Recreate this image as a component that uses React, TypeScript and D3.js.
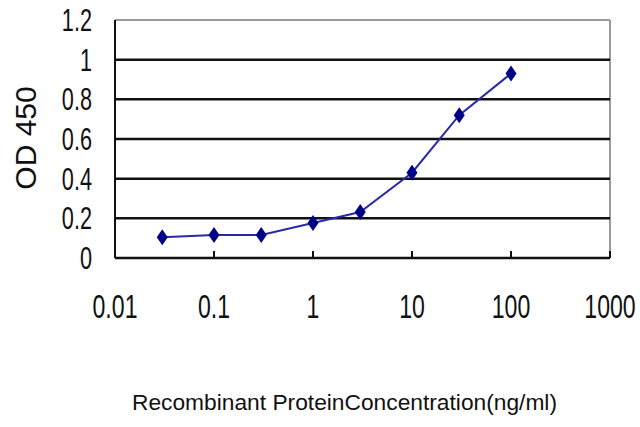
import { useEffect, useRef } from 'react'
import * as d3 from 'd3'

const concentrations = [0.03, 0.1, 0.3, 1, 3, 10, 30, 100]
const odValues = [0.105, 0.116, 0.116, 0.176, 0.232, 0.43, 0.72, 0.93]
const xTicks = [0.01, 0.1, 1, 10, 100, 1000]
const xTickLabels = ['0.01', '0.1', '1', '10', '100', '1000']
const yTicks = [0, 0.2, 0.4, 0.6, 0.8, 1, 1.2]
const yTickLabels = ['0', '0.2', '0.4', '0.6', '0.8', '1', '1.2']

const FONT = '"Liberation Sans", Arial, sans-serif'

export default function App() {
  const ref = useRef<SVGSVGElement>(null)

  useEffect(() => {
    if (!ref.current) return
    const svg = d3.select(ref.current)
    svg.selectAll('*').remove()

    const left = 115, right = 610, top = 20, bottom = 258

    const x = d3.scaleLog().domain([0.01, 1000]).range([left, right])
    const y = d3.scaleLinear().domain([0, 1.2]).range([bottom, top])

    svg.append('rect').attr('width', 640).attr('height', 427).attr('fill', '#fff')

    // plot frame (top / right in grey)
    svg.append('line')
      .attr('x1', left).attr('x2', right).attr('y1', y(1.2)).attr('y2', y(1.2))
      .attr('stroke', '#9a9a9a').attr('stroke-width', 2)
    svg.append('line')
      .attr('x1', right).attr('x2', right).attr('y1', top).attr('y2', bottom)
      .attr('stroke', '#9a9a9a').attr('stroke-width', 2)

    // gridlines
    svg.append('g')
      .selectAll('line')
      .data(yTicks.filter(t => t > 0 && t < 1.2))
      .enter()
      .append('line')
      .attr('x1', left).attr('x2', right)
      .attr('y1', d => y(d)).attr('y2', d => y(d))
      .attr('stroke', '#111').attr('stroke-width', 2.5)

    // axes
    svg.append('line')
      .attr('x1', left).attr('x2', left).attr('y1', top).attr('y2', bottom)
      .attr('stroke', '#111').attr('stroke-width', 2)
    svg.append('line')
      .attr('x1', left).attr('x2', right).attr('y1', bottom).attr('y2', bottom)
      .attr('stroke', '#111').attr('stroke-width', 2.5)

    // x ticks point up into the plot
    svg.append('g')
      .selectAll('line')
      .data(xTicks)
      .enter()
      .append('line')
      .attr('x1', d => x(d)).attr('x2', d => x(d))
      .attr('y1', bottom).attr('y2', bottom - 7)
      .attr('stroke', '#111').attr('stroke-width', 2)

    // y tick labels
    svg.append('g')
      .selectAll('text')
      .data(yTicks)
      .enter()
      .append('text')
      .attr('transform', d => `translate(92,${y(d) + 11}) scale(0.7,1)`)
      .attr('text-anchor', 'end')
      .style('font-family', FONT)
      .style('font-size', '31px')
      .style('fill', '#111')
      .text((d, i) => yTickLabels[i])

    // x tick labels
    svg.append('g')
      .selectAll('text')
      .data(xTicks)
      .enter()
      .append('text')
      .attr('transform', d => `translate(${x(d)},318) scale(0.7,1)`)
      .attr('text-anchor', 'middle')
      .style('font-family', FONT)
      .style('font-size', '33px')
      .style('fill', '#111')
      .text((d, i) => xTickLabels[i])

    // axis titles
    svg.append('text')
      .attr('transform', 'translate(36,138) rotate(-90)')
      .attr('text-anchor', 'middle')
      .style('font-family', FONT)
      .style('font-size', '30px')
      .style('fill', '#111')
      .text('OD 450')

    svg.append('text')
      .attr('x', 132).attr('y', 410)
      .attr('textLength', 425)
      .attr('lengthAdjust', 'spacingAndGlyphs')
      .style('font-family', FONT)
      .style('font-size', '22px')
      .style('fill', '#111')
      .text('Recombinant ProteinConcentration(ng/ml)')

    // series
    const pts = concentrations.map((c, i) => [c, odValues[i]] as [number, number])
    const line = d3.line<[number, number]>().x(d => x(d[0])).y(d => y(d[1]))
    svg.append('path')
      .attr('d', line(pts))
      .attr('fill', 'none')
      .attr('stroke', '#2a2aa8')
      .attr('stroke-width', 2)

    svg.append('g')
      .selectAll('path')
      .data(pts)
      .enter()
      .append('path')
      .attr('transform', d => `translate(${x(d[0])},${y(d[1])})`)
      .attr('d', 'M0,-8 L5.5,0 L0,8 L-5.5,0 Z')
      .attr('fill', '#000088')
  }, [])

  return (
    <svg
      ref={ref}
      width={640}
      height={427}
      style={{ position: 'absolute', left: 0, top: 0, display: 'block' }}
    />
  )
}
